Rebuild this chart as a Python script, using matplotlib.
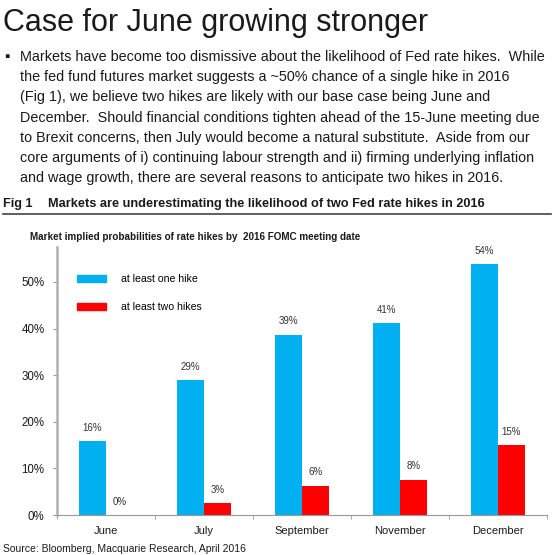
import numpy as np
import matplotlib
matplotlib.use("Agg")
import matplotlib.pyplot as plt
from matplotlib.patches import Patch

plt.rcParams['font.family'] = ['Liberation Sans', 'DejaVu Sans']

# data
months = ['June', 'July', 'September', 'November', 'December']
one_hike = [15.8, 28.9, 38.7, 41.2, 53.8]
two_hikes = [0.0, 2.6, 6.3, 7.6, 15.0]
yticks = [0, 10, 20, 30, 40, 50]

title = "Case for June growing stronger"
para = [
    "Markets have become too dismissive about the likelihood of Fed rate hikes.  While",
    "the fed fund futures market suggests a ~50% chance of a single hike in 2016",
    "(Fig 1), we believe two hikes are likely with our base case being June and",
    "December.  Should financial conditions tighten ahead of the 15-June meeting due",
    "to Brexit concerns, then July would become a natural substitute.  Aside from our",
    "core arguments of i) continuing labour strength and ii) firming underlying inflation",
    "and wage growth, there are several reasons to anticipate two hikes in 2016.",
]
fig_title = "Markets are underestimating the likelihood of two Fed rate hikes in 2016"
chart_title = "Market implied probabilities of rate hikes by  2016 FOMC meeting date"
source = "Source: Bloomberg, Macquarie Research, April 2016"

BLUE = '#00b0f0'
RED = '#ff0000'
TXT = '#1a1a1a'

W, H = 559, 555
fig = plt.figure(figsize=(W / 100, H / 100), dpi=100)

def px(x, y):
    return x / W, 1 - y / H

# header text
fig.text(*px(3, 23), title, fontsize=22, color=TXT, va='center', ha='left')
fig.text(*px(4, 57), "\u25aa", fontsize=11, color=TXT, va='center', ha='left')
for i, line in enumerate(para):
    fig.text(*px(20, 57 + i * 20.2), line, fontsize=10.4, color=TXT,
             va='center', ha='left')

fig.text(*px(3, 204), "Fig 1", fontsize=9.2, fontweight='bold', color=TXT,
         va='center', ha='left')
fig.text(*px(48, 204), fig_title, fontsize=9.2, fontweight='bold', color=TXT,
         va='center', ha='left')
fig.add_artist(plt.Line2D([3 / W, 551 / W], [1 - 214 / H, 1 - 214 / H],
                          color='#444444', lw=1.2))
fig.text(*px(30, 237), chart_title, fontsize=7.1, fontweight='bold', color=TXT,
         va='center', ha='left')
fig.text(*px(3, 549), source, fontsize=7.5, color=TXT, va='center', ha='left')

# chart
ax = fig.add_axes([57 / W, 1 - 515 / H, 490 / W, 268 / H])
x = np.arange(len(months))
w = 0.275
b1 = ax.bar(x - w / 2, one_hike, w, color=BLUE)
b2 = ax.bar(x + w / 2, two_hikes, w, color=RED)

for bars, vals in [(b1, one_hike), (b2, two_hikes)]:
    for b, v in zip(bars, vals):
        ax.annotate(f"{round(v)}%", (b.get_x() + b.get_width() / 2, v),
                    xytext=(0, 6), textcoords='offset points',
                    ha='center', va='bottom', fontsize=7, color='#333333')

ax.set_xlim(-0.5, 4.5)
ax.set_ylim(0, 57.5)
ax.set_yticks(yticks)
ax.set_yticklabels([f"{t}%" for t in yticks], fontsize=8.3, color=TXT)
ax.set_xticks(x)
ax.set_xticklabels(months, fontsize=8, color=TXT)
ax.tick_params(axis='x', length=0, pad=8)
ax.set_xticks(np.arange(-0.5, 5, 1), minor=True)
ax.tick_params(axis='x', which='minor', length=3, color='#999999')
ax.tick_params(axis='y', length=3, color='#999999', pad=6)

for s in ['top', 'right']:
    ax.spines[s].set_visible(False)
ax.spines['left'].set_color('#b0b0b0')
ax.spines['left'].set_linewidth(1.8)
ax.spines['bottom'].set_color('#999999')
ax.spines['bottom'].set_linewidth(0.8)

handles = [Patch(color=BLUE), Patch(color=RED)]
ax.legend(handles, ['at least one hike', 'at least two hikes'],
          loc='upper left', bbox_to_anchor=(0.041, 0.9), frameon=False,
          fontsize=7.6, handlelength=2.75, handleheight=0.65,
          handletextpad=1.4, labelspacing=1.75, borderpad=0, borderaxespad=0)

fig.savefig('out.png', dpi=100)
